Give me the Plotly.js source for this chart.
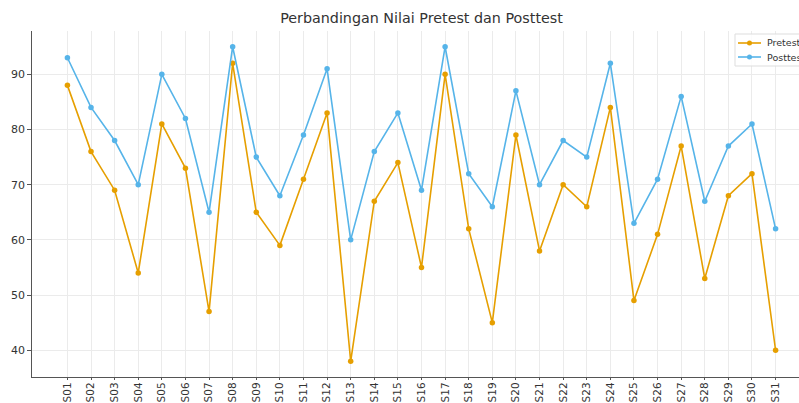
<!DOCTYPE html>
<html>
<head>
<meta charset="utf-8">
<script src="https://cdn.plot.ly/plotly-3.0.1.min.js"></script>
<style>
html,body{margin:0;padding:0;overflow:hidden;background:#fff;}
#chart{width:830px;height:403px;}
</style>
</head>
<body>
<div id="chart"></div>
<script>
const students = ["S01","S02","S03","S04","S05","S06","S07","S08","S09","S10","S11","S12","S13","S14","S15","S16","S17","S18","S19","S20","S21","S22","S23","S24","S25","S26","S27","S28","S29","S30","S31"];
const pretest = [88,76,69,54,81,73,47,92,65,59,71,83,38,67,74,55,90,62,45,79,58,70,66,84,49,61,77,53,68,72,40];
const posttest = [93,84,78,70,90,82,65,95,75,68,79,91,60,76,83,69,95,72,66,87,70,78,75,92,63,71,86,67,77,81,62];
const seriesNames = ["Pretest", "Posttest"];
const seriesColors = ["#E69F00", "#56B4E9"];
const yTicks = [40,50,60,70,80,90];

const font = "DejaVu Sans, sans-serif";
const M = {l: 32, r: 19, t: 31, b: 26}, W = 830, H = 403;
const pw = W - M.l - M.r, ph = H - M.t - M.b;
const px = v => (v - M.l) / pw;
const py = v => (H - M.b - v) / ph;

const traces = [pretest, posttest].map((ys, i) => ({
  x: students, y: ys, name: seriesNames[i], type: "scatter", mode: "lines+markers",
  line: {color: seriesColors[i], width: 1.6}, marker: {color: seriesColors[i], size: 5.5}
}));

const shapes = [{type: "rect", xref: "paper", yref: "paper", x0: px(735), x1: px(840), y0: py(34), y1: py(66),
  fillcolor: "rgba(255,255,255,0.85)", line: {color: "#dddddd", width: 1}, layer: "above"}];
const annotations = [];
seriesNames.forEach((n, i) => {
  const yy = 43 + i * 14;
  shapes.push({type: "line", xref: "paper", yref: "paper", x0: px(738), x1: px(761), y0: py(yy), y1: py(yy),
    line: {color: seriesColors[i], width: 1.6}, layer: "above"});
  shapes.push({type: "circle", xref: "paper", yref: "paper", x0: px(747), x1: px(752), y0: py(yy - 2.5), y1: py(yy + 2.5),
    fillcolor: seriesColors[i], line: {width: 0}, layer: "above"});
  annotations.push({text: n, xref: "paper", yref: "paper", x: px(765), y: py(yy), xanchor: "left", yanchor: "middle",
    showarrow: false, font: {family: font, size: 9.5, color: "#333"}});
});

const layout = {
  width: W, height: H, margin: M,
  paper_bgcolor: "#fff", plot_bgcolor: "#fff",
  font: {family: font, color: "#333", size: 11},
  title: {text: "Perbandingan Nilai Pretest dan Posttest", font: {family: font, size: 14.3, color: "#333"},
          x: 0.5, xanchor: "center", y: 0.955, yanchor: "middle", xref: "paper"},
  showlegend: false,
  shapes: shapes, annotations: annotations,
  xaxis: {type: "category", range: [-1.5, 31.5], tickangle: -90, showgrid: true, gridcolor: "#ebebeb",
          gridwidth: 1, showline: true, linecolor: "#555", linewidth: 1.2, ticks: "outside",
          ticklen: 2, tickcolor: "#555", zeroline: false, tickfont: {family: font, size: 10.5, color: "#333"},
          ticklabelstandoff: -2, fixedrange: true},
  yaxis: {range: [35.15, 97.85], tickvals: yTicks, showgrid: true, gridcolor: "#ebebeb", gridwidth: 1,
          showline: true, linecolor: "#555", linewidth: 1.2, ticks: "outside", ticklen: 3.5,
          tickcolor: "#555", zeroline: false, tickfont: {family: font, size: 11, color: "#333"},
          fixedrange: true}
};
Plotly.newPlot("chart", traces, layout, {displayModeBar: false, staticPlot: true});
</script>
</body>
</html>
